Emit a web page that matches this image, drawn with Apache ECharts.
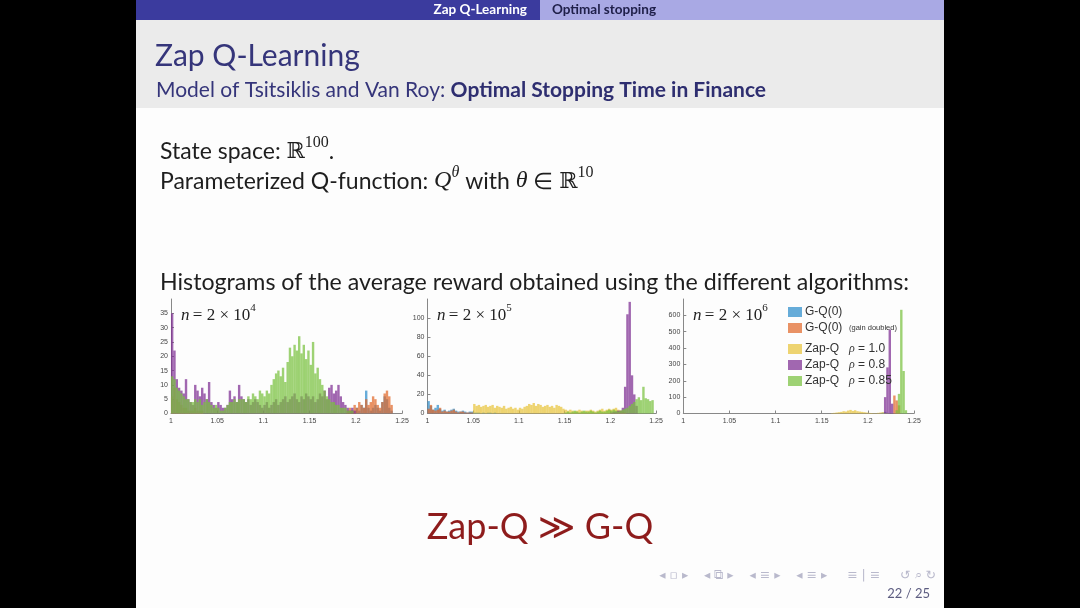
<!DOCTYPE html>
<html>
<head>
<meta charset="utf-8">
<script src="https://cdn.jsdelivr.net/npm/echarts@6.0.0/dist/echarts.min.js"></script>
<style>
  html, body { margin: 0; padding: 0; background: #000; }
  #slide { width: 1080px; height: 608px; }
</style>
</head>
<body>
<div id="slide"></div>
<script>
// histogram bins: width 0.0025 starting at 1.0, each series = start bin + counts
const binW = 0.0025
const xTicks = [1, 1.05, 1.1, 1.15, 1.2, 1.25]

// n = 2 x 10^4
const n4PurpleStart = 0
const n4Purple = [35,22,12,9,8,7,12,5,4,3, 10,8,6,9,7,5,11,4,3,2, 4,3,2,2,3,8,5,6,4,10, 6,5,4,5,3,4,5,4,3,2,
  3,4,2,3,4,5,3,4,5,6, 4,5,6,7,5,4,6,5,7,6, 5,6,4,5,7,6,8,5,9,10, 7,8,10,6,4,3,2,1,2,1]
const n4GreenStart = 0
const n4Green = [13,12,9,8,7,6,5,5,4,4, 5,4,5,3,4,5,4,3,2,3, 2,1,1,2,3,4,4,5,4,5, 5,5,4,6,5,7,6,5,8,7,
  6,8,7,10,12,14,15,13,16,11, 18,23,20,24,22,27,21,24,19,22, 17,25,14,16,12,10,8,6,5,4, 4,3,3,2,2,2,1,1,1,0]
const n4OrangeStart = 76
const n4Orange = [1,2,1,3,2,4,3,2,5,3,4,6,5,3,2,4,7,8,6,3]
const n4BlueStart = 78
const n4Blue = [1,0,2,1,3,2,8,2,1,2,3,2,1,4,6,5,2,1]
const n4YellowStart = 0
const n4Yellow = [6,9,5,4,3,2,2,1,1,1,2,1,1,1]

// n = 2 x 10^5
const n5BlueStart = 0
const n5Blue = [13,8,4,6,9,5,3,4,2,3,4,5,3,2,2,3,2,1,2,2,1,1,1,0,1,0,1,1,0,1]
const n5OrangeStart = 0
const n5Orange = [5,9,4,3,4,6,2,3,2,2,3,4,2,1,2,2,1,1,1,1]
const n5YellowStart = 20
const n5Yellow = [10,8,9,7,8,9,7,8,9,6, 8,7,6,8,5,6,7,5,6,4, 6,5,7,8,10,9,11,8,10,9, 7,8,9,7,8,6,9,8,7,5,
  4,3,4,3,2,3,4,3,2,3, 3,4,3,2,3,4,5,3,4,5, 4,5,6,4,3,2,1]
const n5PurpleStart = 80
const n5Purple = [1,2,2,3,3,6,28,104,117,40,20,8]
const n5GreenStart = 60
const n5Green = [1,2,1,2,3,2,1,2,3,2, 2,3,2,1,2,3,2,2,3,4, 3,4,3,2,3,4,5,6,8,10, 12,15,17,14,28,16,15,13,14]

// n = 2 x 10^6
const n6BlueStart = 86
const n6Blue = [5,10,4]
const n6YellowStart = 64
const n6Yellow = [2,4,6,8,10,14,12,18,22,16,20,14,12,10,8,6,4,3,2,2,4,6,8,5,3]
const n6PurpleStart = 87
const n6Purple = [100,282,513,60]
const n6OrangeStart = 91
const n6Orange = [110,80,50]
const n6GreenStart = 92
const n6Green = [20,120,634,260,20]

const names = ['G-Q(0)', 'G-Q(0) (gain doubled)', 'Zap-Q ρ = 1.0', 'Zap-Q ρ = 0.8', 'Zap-Q ρ = 0.85']
const colors = ['#2b8ccb', '#e0682a', '#e8c43a', '#7d2c92', '#78c03e']

function toBins(start, vals) {
  return vals.map((v, i) => [1 + binW * (start + i + 0.5), v]).filter(d => d[1] > 0)
}

function hist(k, start, vals, g) {
  return {
    type: 'bar', name: names[k], xAxisIndex: g, yAxisIndex: g,
    data: toBins(start, vals), barWidth: 2.4, barGap: '-100%',
    itemStyle: { color: colors[k], opacity: 0.72 }, silent: true
  }
}

const grids = [
  { left: 171, top: 299, width: 231, height: 114.5 },
  { left: 427.5, top: 299, width: 228.5, height: 114.5 },
  { left: 683.3, top: 299, width: 230.7, height: 114.5 }
]
const yMax = [40, 120, 700]
const yStep = [5, 20, 100]

let myChart = echarts.init(document.getElementById('slide'), null, { renderer: 'canvas' })

const sans = 'Lato, "DejaVu Sans", sans-serif'
const serif = '"Liberation Serif", "DejaVu Serif", serif'

function plotLabel(x, exp) {
  return {
    type: 'text', x: x, y: 303,
    style: {
      text: '{i|n} {t|= 2 × 10}{s|' + exp + '}',
      rich: {
        i: { fontFamily: serif, fontStyle: 'italic', fontSize: 17, fill: '#222', verticalAlign: 'bottom', lineHeight: 21 },
        t: { fontFamily: serif, fontSize: 17, fill: '#222', verticalAlign: 'bottom', lineHeight: 21 },
        s: { fontFamily: serif, fontSize: 11, fill: '#222', verticalAlign: 'top', lineHeight: 21 }
      }
    }
  }
}

const body = { fontFamily: 'Lato', fontSize: 23, fill: '#1e1e1e', verticalAlign: 'bottom', lineHeight: 28 }
const bodyR = { fontFamily: '"DejaVu Serif"', fontSize: 22, fill: '#1e1e1e', verticalAlign: 'bottom', lineHeight: 28 }
const bodyQ = { fontFamily: serif, fontStyle: 'italic', fontSize: 24, fill: '#1e1e1e', verticalAlign: 'bottom', lineHeight: 28 }
const bodyS = { fontFamily: serif, fontSize: 16, fill: '#1e1e1e', verticalAlign: 'top', lineHeight: 28 }
const bodySi = Object.assign({}, bodyS, { fontStyle: 'italic' })

const graphics = [
  { type: 'rect', shape: { x: 136, y: 0, width: 808, height: 608 }, style: { fill: '#fdfdfd' } },
  { type: 'rect', shape: { x: 136, y: 0, width: 404, height: 20 }, style: { fill: '#3b3b9e' } },
  { type: 'rect', shape: { x: 540, y: 0, width: 404, height: 20 }, style: { fill: '#a9a9e4' } },
  { type: 'rect', shape: { x: 136, y: 20, width: 808, height: 88 }, style: { fill: '#ebebeb' } },
  { type: 'text', x: 527, y: 10, style: { text: 'Zap Q-Learning', font: 'bold 13.5px ' + sans, fill: '#fff', align: 'right', verticalAlign: 'middle' } },
  { type: 'text', x: 552, y: 10, style: { text: 'Optimal stopping', font: 'bold 13.5px ' + sans, fill: '#20204a', align: 'left', verticalAlign: 'middle' } },
  { type: 'text', x: 155, y: 56, style: { text: 'Zap Q-Learning', font: '30px ' + sans, fill: '#35357a', verticalAlign: 'middle' } },
  { type: 'text', x: 156, y: 90, style: {
      text: '{n|Model of Tsitsiklis and Van Roy: }{b|Optimal Stopping Time in Finance}',
      rich: {
        n: { fontFamily: 'Lato', fontSize: 21, fill: '#35357a' },
        b: { fontFamily: 'Lato', fontWeight: 'bold', fontSize: 21, fill: '#2e2e70' }
      }, verticalAlign: 'middle' } },
  { type: 'text', x: 160, y: 135, style: {
      text: '{t|State space: }{r|ℝ}{s|100}{t|.}',
      rich: { t: body, r: bodyR, s: bodyS } } },
  { type: 'text', x: 160, y: 165, style: {
      text: '{t|Parameterized Q-function: }{q|Q}{si|θ}{t| with }{q|θ}{t| ∈ }{r|ℝ}{s|10}',
      rich: { t: body, q: bodyQ, r: bodyR, s: bodyS, si: bodySi } } },
  { type: 'text', x: 160, y: 283, style: { text: 'Histograms of the average reward obtained using the different algorithms:', font: '23.2px ' + sans, fill: '#1e1e1e', verticalAlign: 'middle' } },
  plotLabel(181, '4'), plotLabel(437, '5'), plotLabel(693, '6'),
  { type: 'text', x: 540, y: 527, style: { text: 'Zap-Q ≫ G-Q', font: '36px ' + sans, fill: '#8e1c1c', align: 'center', verticalAlign: 'middle' } },
  { type: 'text', x: 936, y: 576, style: { text: '◂ ▫ ▸    ◂ ⧉ ▸    ◂ ≡ ▸    ◂ ≡ ▸     ≡ | ≡     ↺ ⌕ ↻', font: '12.5px "DejaVu Sans"', fill: '#b9b9cc', align: 'right', verticalAlign: 'middle' } },
  { type: 'text', x: 930, y: 594, style: { text: '22 / 25', font: '13px ' + sans, fill: '#5c5c80', align: 'right', verticalAlign: 'middle' } }
]

const series = [
  hist(0, n4BlueStart, n4Blue, 0), hist(1, n4OrangeStart, n4Orange, 0), hist(2, n4YellowStart, n4Yellow, 0),
  hist(3, n4PurpleStart, n4Purple, 0), hist(4, n4GreenStart, n4Green, 0),
  hist(0, n5BlueStart, n5Blue, 1), hist(1, n5OrangeStart, n5Orange, 1), hist(2, n5YellowStart, n5Yellow, 1),
  hist(3, n5PurpleStart, n5Purple, 1), hist(4, n5GreenStart, n5Green, 1),
  hist(0, n6BlueStart, n6Blue, 2), hist(1, n6OrangeStart, n6Orange, 2), hist(2, n6YellowStart, n6Yellow, 2),
  hist(3, n6PurpleStart, n6Purple, 2), hist(4, n6GreenStart, n6Green, 2)
]

const legendRich = {
  n: { fontFamily: '"Liberation Sans"', fontSize: 12, color: '#333', lineHeight: 14 },
  g: { fontFamily: '"Liberation Sans"', fontSize: 7.5, color: '#333', lineHeight: 14 },
  r: { fontFamily: serif, fontStyle: 'italic', fontSize: 12, color: '#333', lineHeight: 14 }
}
function legendText(name) {
  if (name === names[0]) return '{n|G-Q(0)}'
  if (name === names[1]) return '{n|G-Q(0)}  {g|(gain doubled)}'
  const val = name.split('= ')[1]
  return '{n|Zap-Q}   {r|ρ} {n|= ' + val + '}'
}
const legendBase = {
  orient: 'vertical', left: 788, itemWidth: 14, itemHeight: 10, itemGap: 4, padding: 0,
  selectedMode: false, icon: 'rect', formatter: legendText,
  textStyle: { rich: legendRich, padding: [0, 0, 0, -2] }
}

myChart.setOption({
  animation: false,
  backgroundColor: '#000',
  graphic: graphics,
  legend: [
    Object.assign({}, legendBase, { top: 306, data: names.slice(0, 2) }),
    Object.assign({}, legendBase, { top: 343, data: names.slice(2) })
  ],
  grid: grids.map(g => Object.assign({ show: true, borderColor: '#999', borderWidth: 1, backgroundColor: '#fff' }, g)),
  xAxis: grids.map((g, i) => ({
    type: 'value', gridIndex: i, min: 1, max: 1.25, interval: 0.05,
    axisLine: { lineStyle: { color: '#888' } },
    axisTick: { inside: true, length: 3, lineStyle: { color: '#888' } },
    splitLine: { show: false },
    axisLabel: { fontSize: 7, color: '#444', margin: 4, fontFamily: '"Liberation Sans"',
      formatter: v => String(+v.toFixed(2)) }
  })),
  yAxis: grids.map((g, i) => ({
    type: 'value', gridIndex: i, min: 0, max: yMax[i], interval: yStep[i],
    axisLine: { show: true, lineStyle: { color: '#888' } },
    axisTick: { show: true, inside: true, length: 3, lineStyle: { color: '#888' } },
    splitLine: { show: false },
    axisLabel: { fontSize: 7, color: '#444', margin: 3, showMaxLabel: false, fontFamily: '"Liberation Sans"' }
  })),
  series: series
})
</script>
</body>
</html>
